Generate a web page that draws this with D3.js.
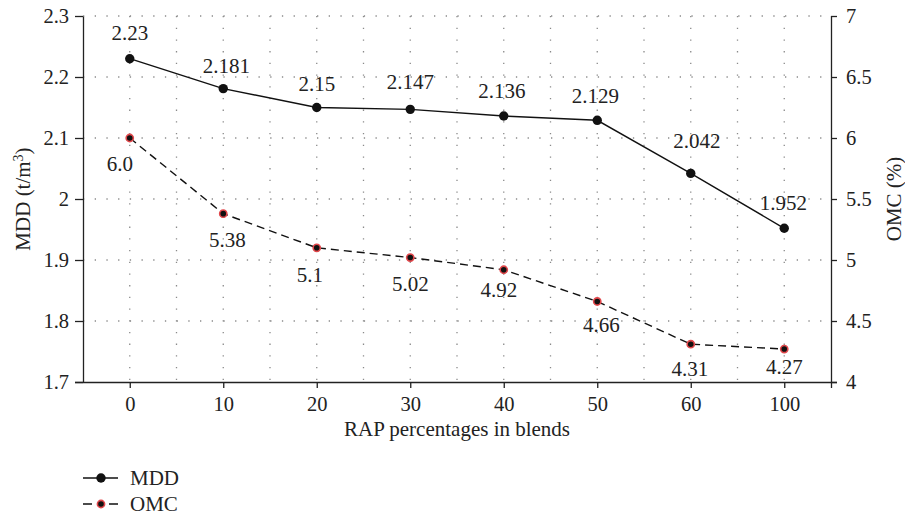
<!DOCTYPE html>
<html>
<head>
<meta charset="utf-8">
<script src="https://cdn.jsdelivr.net/npm/d3@7/dist/d3.min.js"></script>
<style>
  body { margin: 0; background: #fff; }
  svg { display: block; }
  text { font-family: "Liberation Serif", "Times New Roman", serif; fill: #222; }
  .axis path, .axis line { stroke: #222; stroke-width: 1.3; }
  .axis text { font-size: 20.5px; font-family: "Liberation Serif", serif; }
  .grid line { stroke: #8a8a8a; stroke-width: 1.3; stroke-dasharray: 1.3,10.4; }
</style>
</head>
<body>
<svg id="chart" width="905" height="517"></svg>
<script>
// data
var categories = ["0", "10", "20", "30", "40", "50", "60", "100"];
var mdd = [2.23, 2.181, 2.15, 2.147, 2.136, 2.129, 2.042, 1.952];
var omc = [6.0, 5.38, 5.1, 5.02, 4.92, 4.66, 4.31, 4.27];
var omcLabels = ["6.0", "5.38", "5.1", "5.02", "4.92", "4.66", "4.31", "4.27"];
var mddTicks = [1.7, 1.8, 1.9, 2.0, 2.1, 2.2, 2.3];
var omcTicks = [4, 4.5, 5, 5.5, 6, 6.5, 7];

// hand placement of the value labels (px from the point to the label centre)
var mddLabelNudge = [[0, -26], [3, -23], [0, -24], [0, -27], [-2, -25], [-2, -24], [6, -33], [-1, -25]];
var omcLabelNudge = [[-10, 26], [4, 26], [-7, 27], [0, 26], [-5, 20], [4, 23], [-1, 25], [0, 18]];

var svg = d3.select("#chart"),
    margin = {top: 16, right: 74, bottom: 135, left: 83},
    width = +svg.attr("width") - margin.left - margin.right,
    height = +svg.attr("height") - margin.top - margin.bottom,
    g = svg.append("g").attr("transform", "translate(" + margin.left + "," + margin.top + ")");

var x = d3.scalePoint().domain(categories).range([0, width]).padding(0.5);
var yL = d3.scaleLinear().domain([1.7, 2.3]).range([height, 0]);
var yR = d3.scaleLinear().domain([4, 7]).range([height, 0]);
var fmt = function(d) { return String(+d.toFixed(1)); };

// dotted grid: horizontal at every left tick, vertical at centers and band edges
var half = x.step() / 2;
var vgrid = [];
categories.forEach(function(c, i) {
  vgrid.push(x(c));
  if (i < categories.length - 1) vgrid.push(x(c) + half);
});

var grid = g.append("g").attr("class", "grid");
grid.selectAll(".h")
  .data(mddTicks.filter(function(t) { return t > 1.7; }))
  .enter().append("line")
    .attr("x1", 0).attr("x2", width)
    .attr("y1", function(d) { return yL(d); })
    .attr("y2", function(d) { return yL(d); });
grid.selectAll(".v")
  .data(vgrid)
  .enter().append("line")
    .attr("x1", function(d) { return d; }).attr("x2", function(d) { return d; })
    .attr("y1", 0).attr("y2", height);

// axes
g.append("g")
    .attr("class", "axis")
    .attr("transform", "translate(0," + height + ")")
    .call(d3.axisBottom(x).tickSize(6).tickSizeOuter(0).tickPadding(8))
  .select(".domain").attr("d", "M-8,0.5H" + (width + 6));

g.append("g")
    .attr("class", "axis")
    .call(d3.axisLeft(yL).tickValues(mddTicks).tickFormat(fmt).tickSize(8).tickSizeOuter(0).tickPadding(6));

g.append("g")
    .attr("class", "axis")
    .attr("transform", "translate(" + width + ",0)")
    .call(d3.axisRight(yR).tickValues(omcTicks).tickFormat(fmt).tickSize(6).tickSizeOuter(0).tickPadding(9))
  .select(".domain").attr("d", "M0.5,0V" + (height + 6));

// axis titles
svg.append("text")
    .attr("transform", "translate(30," + (margin.top + height / 2) + ") rotate(-90)")
    .attr("text-anchor", "middle")
    .style("font-size", "21px")
    .call(function(t) {
      t.append("tspan").text("MDD (t/m");
      t.append("tspan").attr("baseline-shift", "super").style("font-size", "14px").text("3");
      t.append("tspan").text(")");
    });

svg.append("text")
    .attr("transform", "translate(901," + (margin.top + height / 2) + ") rotate(-90)")
    .attr("text-anchor", "middle")
    .style("font-size", "21px")
    .text("OMC (%)");

svg.append("text")
    .attr("x", margin.left + width / 2)
    .attr("y", 436)
    .attr("text-anchor", "middle")
    .style("font-size", "21px")
    .text("RAP percentages in blends");

// lines
var lineL = d3.line()
    .x(function(d, i) { return x(categories[i]); })
    .y(function(d) { return yL(d); });
var lineR = d3.line()
    .x(function(d, i) { return x(categories[i]); })
    .y(function(d) { return yR(d); });

g.append("path")
    .datum(mdd)
    .attr("fill", "none")
    .attr("stroke", "#111")
    .attr("stroke-width", 1.4)
    .attr("d", lineL);

g.append("path")
    .datum(omc)
    .attr("fill", "none")
    .attr("stroke", "#111")
    .attr("stroke-width", 1.4)
    .attr("stroke-dasharray", "8,5")
    .attr("d", lineR);

// markers
g.selectAll(".mdd-dot")
  .data(mdd)
  .enter().append("circle")
    .attr("cx", function(d, i) { return x(categories[i]); })
    .attr("cy", function(d) { return yL(d); })
    .attr("r", 4.7)
    .attr("fill", "#111");

g.selectAll(".omc-dot")
  .data(omc)
  .enter().append("circle")
    .attr("cx", function(d, i) { return x(categories[i]); })
    .attr("cy", function(d) { return yR(d); })
    .attr("r", 3.6)
    .attr("fill", "#111")
    .attr("stroke", "#e2474b")
    .attr("stroke-width", 1.6);

// value labels
g.selectAll(".mdd-label")
  .data(mdd)
  .enter().append("text")
    .attr("x", function(d, i) { return x(categories[i]) + mddLabelNudge[i][0]; })
    .attr("y", function(d, i) { return yL(d) + mddLabelNudge[i][1]; })
    .attr("dy", "0.34em")
    .attr("text-anchor", "middle")
    .style("font-size", "21px")
    .text(function(d) { return d; });

g.selectAll(".omc-label")
  .data(omc)
  .enter().append("text")
    .attr("x", function(d, i) { return x(categories[i]) + omcLabelNudge[i][0]; })
    .attr("y", function(d, i) { return yR(d) + omcLabelNudge[i][1]; })
    .attr("dy", "0.34em")
    .attr("text-anchor", "middle")
    .style("font-size", "21px")
    .text(function(d, i) { return omcLabels[i]; });

// legend
var legend = svg.selectAll(".legend")
  .data([{name: "MDD", dash: null, stroke: "none", r: 4.7},
         {name: "OMC", dash: "9,17", stroke: "#e2474b", r: 3.6}])
  .enter().append("g")
    .attr("class", "legend")
    .attr("transform", function(d, i) { return "translate(83," + (478 + i * 26) + ")"; });

legend.append("line")
    .attr("x1", 0).attr("x2", 35)
    .attr("stroke", "#111")
    .attr("stroke-width", 1.4)
    .attr("stroke-dasharray", function(d) { return d.dash; });

legend.append("circle")
    .attr("cx", 18)
    .attr("r", function(d) { return d.r; })
    .attr("fill", "#111")
    .attr("stroke", function(d) { return d.stroke; })
    .attr("stroke-width", 1.6);

legend.append("text")
    .attr("x", 47)
    .attr("dy", "0.33em")
    .style("font-size", "21px")
    .text(function(d) { return d.name; });
</script>
</body>
</html>
